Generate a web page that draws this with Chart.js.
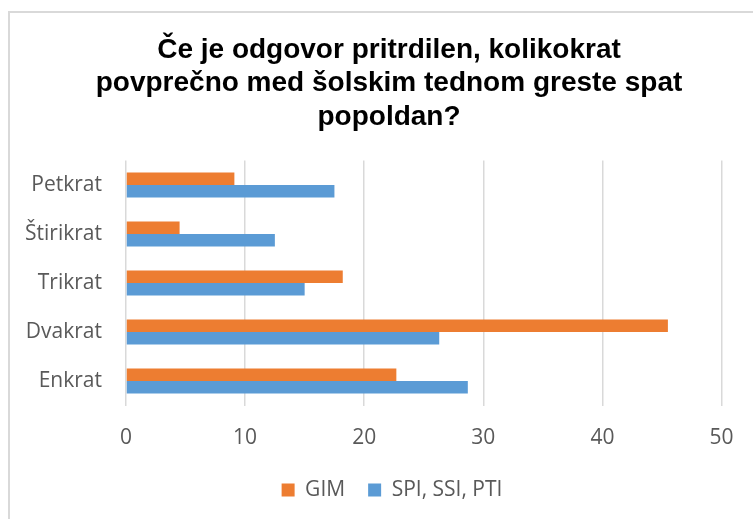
<!DOCTYPE html>
<html>
<head>
<meta charset="utf-8">
<script src="https://cdn.jsdelivr.net/npm/chart.js@4/dist/chart.umd.min.js"></script>
<style>
  html, body { margin: 0; padding: 0; background: #ffffff; }
  #wrap { position: relative; width: 753px; height: 519px; overflow: hidden; }
  #frame { position: absolute; left: 8px; top: 11px; width: 800px; height: 600px;
           border-left: 2px solid #d9d9d9; border-top: 2px solid #d9d9d9; }
  canvas { position: absolute; left: 0; top: 0; }
</style>
</head>
<body>
<div id="wrap">
  <div id="frame"></div>
  <canvas id="c" width="753" height="519"></canvas>
</div>
<script>
const titleLines = ['Če je odgovor pritrdilen, kolikokrat', 'povprečno med šolskim tednom greste spat', 'popoldan?'];
const categories = ['Petkrat', 'Štirikrat', 'Trikrat', 'Dvakrat', 'Enkrat'];
const seriesNames = ['GIM', 'SPI, SSI, PTI'];
const gimValues = [9.1, 4.5, 18.2, 45.5, 22.7];
const spiValues = [17.5, 12.5, 15.0, 26.3, 28.7];
const xTicks = [0, 10, 20, 30, 40, 50];

const tickFont = { family: "'Open Sans', 'Noto Sans', sans-serif", size: 21 };
const gray = '#595959';

// shift title and legend horizontally to match the reference centring
const shiftBoxes = {
  id: 'shiftBoxes',
  afterLayout(chart) {
    const t = chart.titleBlock, l = chart.legend;
    if (t) { t.left += 28; t.right += 28; }
    if (l) { l.left += 31; l.right += 31; }
  }
};

new Chart(document.getElementById('c'), {
  type: 'bar',
  data: {
    labels: categories,
    datasets: [
      { label: seriesNames[0], data: gimValues, backgroundColor: '#ED7D31', borderWidth: 0 },
      { label: seriesNames[1], data: spiValues, backgroundColor: '#5B9BD5', borderWidth: 0 }
    ]
  },
  plugins: [shiftBoxes],
  options: {
    indexAxis: 'y',
    responsive: false,
    animation: false,
    devicePixelRatio: 1,
    datasets: { bar: { categoryPercentage: 0.51, barPercentage: 1.0 } },
    layout: { padding: { left: 0, right: 31, top: 0, bottom: 8.5 } },
    plugins: {
      title: {
        display: true,
        text: titleLines,
        color: '#000000',
        font: { family: "'Liberation Sans', Arial, sans-serif", size: 28, weight: 'bold', lineHeight: 1.2 },
        padding: { top: 33, bottom: 26.7 }
      },
      legend: {
        position: 'bottom',
        labels: {
          boxWidth: 13, boxHeight: 13, padding: 23,
          color: gray, font: tickFont
        }
      },
      tooltip: { enabled: false }
    },
    scales: {
      x: {
        min: xTicks[0], max: xTicks[xTicks.length - 1],
        afterBuildTicks: (s) => { s.ticks = xTicks.map(v => ({ value: v })); },
        grid: { color: '#d9d9d9', lineWidth: 1.5, drawTicks: false },
        border: { display: false },
        ticks: { color: gray, font: tickFont, padding: 19.5 },
        afterFit: (s) => { s.height = 51; }
      },
      y: {
        grid: { display: false, drawTicks: false },
        border: { display: false },
        ticks: { color: gray, font: tickFont, padding: 24 },
        afterFit: (s) => { s.width = 126; }
      }
    }
  }
});
</script>
</body>
</html>
